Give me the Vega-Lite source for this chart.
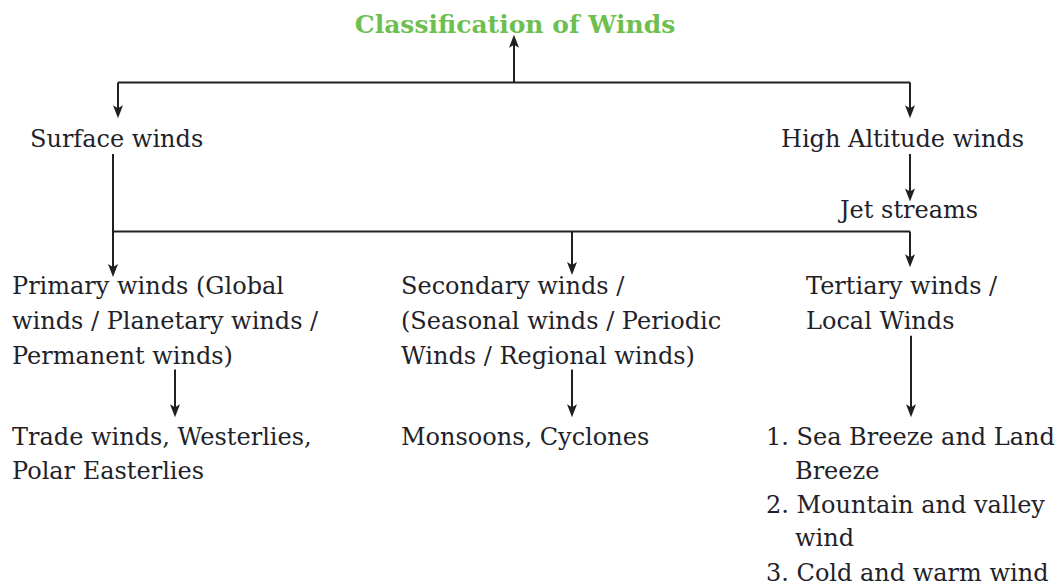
{
  "$schema": "https://vega.github.io/schema/vega-lite/v6.json",
  "width": 1059,
  "height": 586,
  "autosize": {"type": "fit", "contains": "padding"},
  "padding": 0,
  "background": "white",
  "config": {"view": {"stroke": null}},
  "datasets": {
    "segments": [
      {"x1": 514, "y1": 83, "x2": 514, "y2": 40},
      {"x1": 118, "y1": 83, "x2": 910, "y2": 83},
      {"x1": 118, "y1": 83, "x2": 118, "y2": 112},
      {"x1": 910, "y1": 83, "x2": 910, "y2": 112},
      {"x1": 113, "y1": 155, "x2": 113, "y2": 272},
      {"x1": 113, "y1": 233, "x2": 910, "y2": 233},
      {"x1": 572, "y1": 233, "x2": 572, "y2": 270},
      {"x1": 910, "y1": 233, "x2": 910, "y2": 262},
      {"x1": 910, "y1": 155, "x2": 910, "y2": 196},
      {"x1": 175, "y1": 372, "x2": 175, "y2": 413},
      {"x1": 572, "y1": 372, "x2": 572, "y2": 413},
      {"x1": 911, "y1": 338, "x2": 911, "y2": 413}
    ],
    "heads": [
      {"x": 514, "y": 35, "dir": "up"},
      {"x": 118, "y": 119, "dir": "down"},
      {"x": 910, "y": 119, "dir": "down"},
      {"x": 113, "y": 279, "dir": "down"},
      {"x": 572, "y": 277, "dir": "down"},
      {"x": 910, "y": 269, "dir": "down"},
      {"x": 910, "y": 203, "dir": "down"},
      {"x": 175, "y": 420, "dir": "down"},
      {"x": 572, "y": 420, "dir": "down"},
      {"x": 911, "y": 420, "dir": "down"}
    ],
    "title": [
      {"x": 515, "y": 33, "label": "Classification of Winds"}
    ],
    "labels": [
      {"x": 30, "y": 148, "label": "Surface winds"},
      {"x": 781, "y": 148, "label": "High Altitude winds"},
      {"x": 840, "y": 219, "label": "Jet streams"},
      {"x": 12, "y": 296, "label": "Primary winds (Global"},
      {"x": 12, "y": 331, "label": "winds / Planetary winds /"},
      {"x": 12, "y": 366, "label": "Permanent winds)"},
      {"x": 401, "y": 296, "label": "Secondary winds /"},
      {"x": 401, "y": 331, "label": "(Seasonal winds / Periodic"},
      {"x": 401, "y": 366, "label": "Winds / Regional winds)"},
      {"x": 806, "y": 296, "label": "Tertiary winds /"},
      {"x": 806, "y": 331, "label": "Local Winds"},
      {"x": 12, "y": 448, "label": "Trade winds, Westerlies,"},
      {"x": 12, "y": 482, "label": "Polar Easterlies"},
      {"x": 401, "y": 448, "label": "Monsoons, Cyclones"},
      {"x": 766, "y": 448, "label": "1. Sea Breeze and Land"},
      {"x": 795, "y": 482, "label": "Breeze"},
      {"x": 766, "y": 517, "label": "2. Mountain and valley"},
      {"x": 795, "y": 550, "label": "wind"},
      {"x": 766, "y": 585, "label": "3. Cold and warm wind"}
    ]
  },
  "layer": [
    {
      "data": {"name": "segments"},
      "mark": {"type": "rule", "color": "#231f20", "strokeWidth": 2},
      "encoding": {
        "x": {"field": "x1", "type": "quantitative", "scale": {"domain": [0, 1059], "nice": false, "zero": false}, "axis": null},
        "y": {"field": "y1", "type": "quantitative", "scale": {"domain": [0, 586], "nice": false, "zero": false, "reverse": true}, "axis": null},
        "x2": {"field": "x2"},
        "y2": {"field": "y2"}
      }
    },
    {
      "data": {"name": "heads"},
      "mark": {"type": "point", "filled": true, "color": "#231f20", "opacity": 1, "size": 100, "strokeWidth": 0},
      "encoding": {
        "x": {"field": "x", "type": "quantitative", "scale": {"domain": [0, 1059], "nice": false, "zero": false}, "axis": null},
        "y": {"field": "y", "type": "quantitative", "scale": {"domain": [0, 586], "nice": false, "zero": false, "reverse": true}, "axis": null},
        "shape": {
          "field": "dir", "type": "nominal", "legend": null,
          "scale": {"domain": ["down", "up"], "range": ["M-1,-2.6L0,0L1,-2.6L0,-2Z", "M-1,2.6L0,0L1,2.6L0,2Z"]}
        }
      }
    },
    {
      "data": {"name": "title"},
      "mark": {"type": "text", "align": "center", "baseline": "alphabetic", "font": "DejaVu Serif", "fontSize": 25, "fontWeight": "bold", "color": "#6dbf4f"},
      "encoding": {
        "x": {"field": "x", "type": "quantitative", "scale": {"domain": [0, 1059], "nice": false, "zero": false}, "axis": null},
        "y": {"field": "y", "type": "quantitative", "scale": {"domain": [0, 586], "nice": false, "zero": false, "reverse": true}, "axis": null},
        "text": {"field": "label"}
      }
    },
    {
      "data": {"name": "labels"},
      "mark": {"type": "text", "align": "left", "baseline": "alphabetic", "font": "DejaVu Serif", "fontSize": 24, "color": "#231f2a"},
      "encoding": {
        "x": {"field": "x", "type": "quantitative", "scale": {"domain": [0, 1059], "nice": false, "zero": false}, "axis": null},
        "y": {"field": "y", "type": "quantitative", "scale": {"domain": [0, 586], "nice": false, "zero": false, "reverse": true}, "axis": null},
        "text": {"field": "label"}
      }
    }
  ]
}
